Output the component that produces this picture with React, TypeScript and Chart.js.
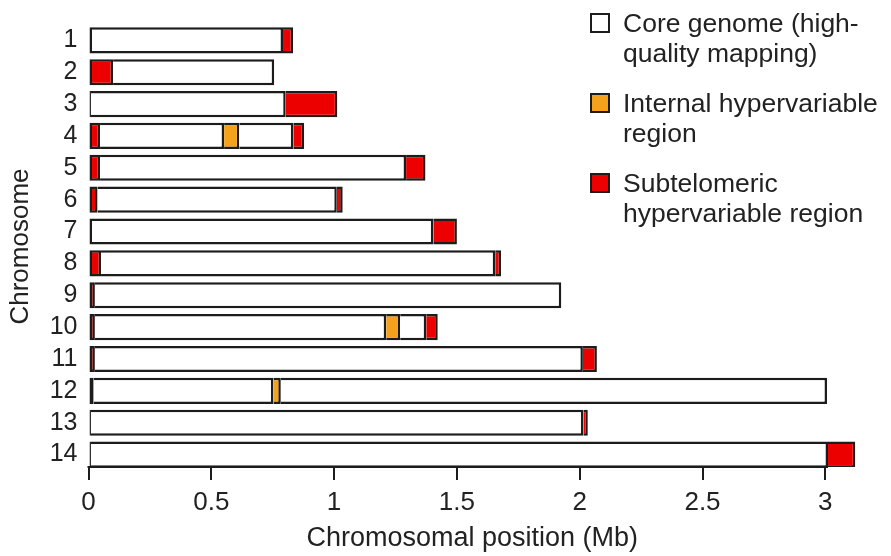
import { useEffect, useRef } from 'react';
import { Chart, registerables } from 'chart.js';

Chart.register(...registerables);

// ---- Data ----
const chromosomes = [1, 2, 3, 4, 5, 6, 7, 8, 9, 10, 11, 12, 13, 14];
const xTickValues = [0, 0.5, 1, 1.5, 2, 2.5, 3];

const seriesNames = [
  'Core genome (high-quality mapping)',
  'Internal hypervariable region',
  'Subtelomeric hypervariable region',
];
const legendLines = [
  ['Core genome (high-', 'quality mapping)'],
  ['Internal hypervariable', 'region'],
  ['Subtelomeric', 'hypervariable region'],
];

// [chromosome, start (Mb), end (Mb)]
const coreSegments: [number, number, number][] = [
  [1, 0, 0.792],
  [2, 0.1, 0.756],
  [3, 0.01, 0.803],
  [4, 0.047, 0.552],
  [4, 0.614, 0.834],
  [5, 0.047, 1.293],
  [6, 0.037, 1.011],
  [7, 0, 1.404],
  [8, 0.051, 1.656],
  [9, 0.026, 1.925],
  [10, 0.026, 1.212],
  [10, 1.269, 1.375],
  [11, 0.026, 2.013],
  [12, 0.021, 0.753],
  [12, 0.783, 3.007],
  [13, 0.01, 2.015],
  [14, 0.01, 3.011],
];

const internalSegments: [number, number, number][] = [
  [4, 0.552, 0.614],
  [10, 1.212, 1.269],
  [12, 0.753, 0.783],
];

const subtelomericSegments: [number, number, number][] = [
  [1, 0.792, 0.833],
  [2, 0, 0.1],
  [3, 0, 0.01],
  [3, 0.803, 1.013],
  [4, 0, 0.047],
  [4, 0.834, 0.878],
  [5, 0, 0.047],
  [5, 1.293, 1.372],
  [6, 0, 0.037],
  [6, 1.011, 1.035],
  [7, 1.404, 1.5],
  [8, 0, 0.051],
  [8, 1.656, 1.68],
  [9, 0, 0.026],
  [10, 0, 0.026],
  [10, 1.375, 1.422],
  [11, 0, 0.026],
  [11, 2.013, 2.07],
  [12, 0, 0.021],
  [13, 0, 0.01],
  [13, 2.015, 2.033],
  [14, 0, 0.01],
  [14, 3.011, 3.122],
];

const COLORS = ['#ffffff', '#f4a21c', '#ec0000'];
const EDGE = '#1c1c1c';
const FONT = '"Liberation Sans", Arial, Helvetica, sans-serif';

const toPoints = (segs: [number, number, number][]) =>
  segs.map(([c, s, e]) => ({ y: c, x: [s, e] }));

const sideLegend = {
  id: 'sideLegend',
  afterDraw(chart: any) {
    const ctx = chart.ctx;
    ctx.save();
    ctx.font = `26.5px ${FONT}`;
    ctx.textBaseline = 'alphabetic';
    ctx.textAlign = 'left';
    legendLines.forEach((lines, i) => {
      const base = 32 + i * 80;
      ctx.fillStyle = COLORS[i];
      ctx.fillRect(591, base - 18, 18, 18);
      ctx.lineWidth = 2;
      ctx.strokeStyle = EDGE;
      ctx.strokeRect(591, base - 18, 18, 18);
      ctx.fillStyle = '#222';
      lines.forEach((t, j) => ctx.fillText(t, 623, base + j * 30));
    });
    ctx.restore();
  },
};

const axisLine = {
  id: 'axisLine',
  afterDraw(chart: any) {
    const { ctx, chartArea } = chart;
    const xs = chart.scales.x;
    ctx.save();
    ctx.strokeStyle = EDGE;
    ctx.lineWidth = 2;
    ctx.beginPath();
    ctx.moveTo(xs.getPixelForValue(0) - 1, chartArea.bottom);
    ctx.lineTo(xs.getPixelForValue(3.011), chartArea.bottom);
    ctx.stroke();
    ctx.restore();
  },
};

export default function App() {
  const ref = useRef<HTMLCanvasElement | null>(null);

  useEffect(() => {
    if (!ref.current) return;
    Chart.defaults.font.family = FONT;
    Chart.defaults.color = '#222';

    const skip = (ctx: any) => {
      const raw = ctx.raw;
      return raw && raw.x && raw.x[0] > 0 ? 'left' : false;
    };

    const mk = (label: string, segs: [number, number, number][], color: string) => ({
      label,
      data: toPoints(segs),
      backgroundColor: color,
      borderColor: EDGE,
      borderWidth: 2.5,
      borderSkipped: skip,
      grouped: false,
      barPercentage: 0.82,
      categoryPercentage: 1,
    });

    const chart = new Chart(ref.current, {
      type: 'bar',
      data: {
        datasets: [
          mk(seriesNames[0], coreSegments, COLORS[0]),
          mk(seriesNames[1], internalSegments, COLORS[1]),
          mk(seriesNames[2], subtelomericSegments, COLORS[2]),
        ] as any,
      },
      options: {
        indexAxis: 'y',
        responsive: false,
        animation: false,
        layout: { padding: { top: 25, right: 35, left: 0, bottom: 0 } },
        plugins: {
          legend: { display: false },
          tooltip: { enabled: false },
        },
        scales: {
          x: {
            type: 'linear',
            position: 'bottom',
            min: 0,
            max: 3.125,
            afterBuildTicks: (s: any) => {
              s.ticks = xTickValues.map((v) => ({ value: v }));
            },
            afterFit: (s: any) => {
              s.height = 89;
            },
            border: { display: false },
            grid: {
              display: true,
              drawOnChartArea: false,
              drawTicks: true,
              tickLength: 13,
              color: EDGE,
              lineWidth: 2,
            },
            ticks: {
              padding: 7,
              font: { size: 26 },
              color: '#222',
              maxRotation: 0,
              autoSkip: false,
              callback: (v: any) => String(v),
            },
            title: {
              display: true,
              text: 'Chromosomal position (Mb)',
              font: { size: 27 },
              color: '#222',
              padding: { top: 0, bottom: 1 },
            },
          },
          y: {
            type: 'linear',
            offset: false,
            reverse: true,
            min: 0.55,
            max: 14.39,
            afterBuildTicks: (s: any) => {
              s.ticks = chromosomes.map((v) => ({ value: v }));
            },
            afterFit: (s: any) => {
              s.width = 88.5;
            },
            border: { display: false },
            grid: { display: false, drawTicks: false },
            ticks: {
              padding: 11,
              font: { size: 25 },
              color: '#222',
              autoSkip: false,
              callback: (v: any) => String(v),
            },
            title: {
              display: true,
              text: 'Chromosome',
              font: { size: 26 },
              color: '#222',
              padding: { top: 5, bottom: 0 },
            },
          },
        },
      } as any,
      plugins: [sideLegend, axisLine],
    });

    return () => chart.destroy();
  }, []);

  return (
    <div style={{ position: 'absolute', left: 0, top: 0, width: 891, height: 556, background: '#fff' }}>
      <canvas ref={ref} width={891} height={556} style={{ display: 'block' }} />
    </div>
  );
}
